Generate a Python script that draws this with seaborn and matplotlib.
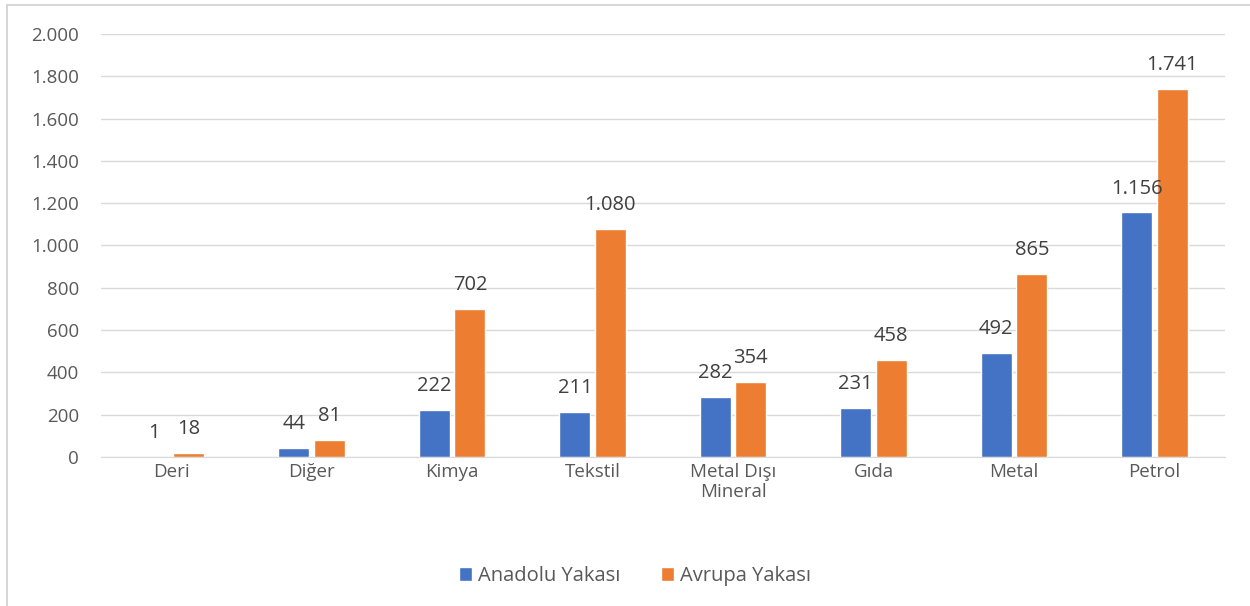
import pandas as pd
import matplotlib.pyplot as plt
import seaborn as sns
from matplotlib.patches import Rectangle

categories = ["Deri", "Diğer", "Kimya", "Tekstil", "Metal Dışı\nMineral", "Gıda", "Metal", "Petrol"]
anadolu = [1, 44, 222, 211, 282, 231, 492, 1156]
avrupa = [18, 81, 702, 1080, 354, 458, 865, 1741]
series = ["Anadolu Yakası", "Avrupa Yakası"]
yticks = [0, 200, 400, 600, 800, 1000, 1200, 1400, 1600, 1800, 2000]

df = pd.DataFrame({
    "kategori": categories * 2,
    "deger": anadolu + avrupa,
    "yaka": [series[0]] * len(categories) + [series[1]] * len(categories),
})

sns.set_style("white")
plt.rcParams['font.family'] = ['Open Sans', 'DejaVu Sans']
grey = "#595959"

fig = plt.figure(figsize=(12.5, 6.06), dpi=100)
ax = fig.add_axes([0.0808, 0.2459, 0.899, 0.698])
sns.barplot(data=df, x="kategori", y="deger", hue="yaka", order=categories,
            palette=["#4472c4", "#ed7d31"], width=0.505, gap=0.125, ax=ax,
            saturation=1, errorbar=None)

def fmt(v):
    return f"{int(v):,}".replace(",", ".")

for cont in ax.containers:
    ax.bar_label(cont, labels=[fmt(b.get_height()) for b in cont], padding=10,
                 fontsize=14.5, color="#404040")

ax.set_ylim(0, 2000)
ax.set_yticks(yticks)
ax.set_yticklabels([fmt(v) for v in yticks], fontsize=13.5, color=grey)
ax.tick_params(axis="x", labelsize=13.5, labelcolor=grey, length=0, pad=4)
ax.tick_params(axis="y", length=0, pad=16)
ax.yaxis.grid(True, color="#d9d9d9", linewidth=1)
ax.set_axisbelow(True)
ax.set_xlabel("")
ax.set_ylabel("")
for s in ["top", "right", "left"]:
    ax.spines[s].set_visible(False)
ax.spines["bottom"].set_color("#d9d9d9")

ax.legend(loc="upper center", bbox_to_anchor=(0.475, -0.215), ncol=2, frameon=False,
          fontsize=14.5, labelcolor=grey, handlelength=0.65, handleheight=0.65,
          handletextpad=0.3, columnspacing=2.0)

fig.patches.append(Rectangle((0.0056, -0.1), 1.5, 1.092, transform=fig.transFigure,
                             fill=False, edgecolor="#d0d0d0", linewidth=1.2))

fig.savefig("out.png", dpi=100)
